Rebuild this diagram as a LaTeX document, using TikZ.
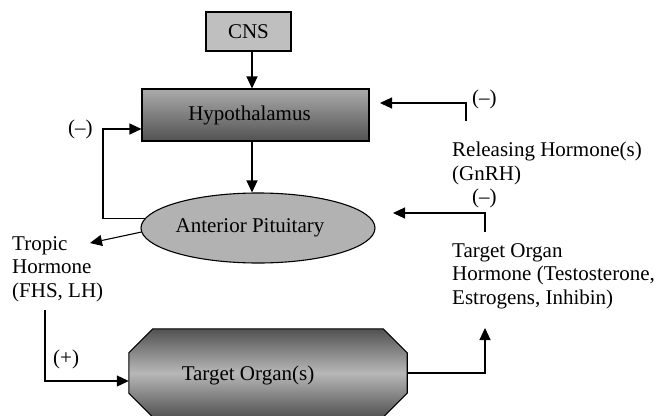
\documentclass[tikz,border=0pt]{standalone}
\usepackage{fontspec}
\setmainfont{Liberation Serif}
\usetikzlibrary{arrows.meta,shapes.geometric,calc}
\begin{document}
\begin{tikzpicture}[x=1pt,y=-1pt,
  every node/.style={font=\fontsize{21}{23.5}\selectfont},
  arr/.style={line width=1.1pt,-{Triangle[length=12pt,width=11pt]}},
  box/.style={draw,line width=1.1pt,inner sep=0pt},
  txt/.style={inner sep=0pt,anchor=base west,align=left},
]
\useasboundingbox (0,0) rectangle (655,415);

% shapes
\node[box,fill=black!25,minimum width=85pt,minimum height=39pt] (cns) at (248.5,31.5) {CNS};
\node[box,top color=black!33,bottom color=black!68,minimum width=227pt,minimum height=52pt,
      label={[xshift=-6pt]center:Hypothalamus}] (hypo) at (255.5,115) {};
\node[box,ellipse,fill=black!30,minimum width=234pt,minimum height=70pt,
      label={[xshift=-8pt]center:Anterior Pituitary}] (ap) at (258,228) {};
\node[inner sep=0pt,minimum width=278pt,minimum height=88pt] (to) at (268,373) {};
\draw[line width=1.1pt,top color=black!68,bottom color=black!68,middle color=black!28]
  ($(to.north west)+(24,0)$) -- ($(to.north east)+(-24,0)$) -- ($(to.north east)+(0,24)$)
  -- ($(to.south east)+(0,-24)$) -- ($(to.south east)+(-24,0)$) -- ($(to.south west)+(24,0)$)
  -- ($(to.south west)+(0,-24)$) -- ($(to.north west)+(0,24)$) -- cycle;
\node[inner sep=0pt] (tol) at ($(to.center)+(-20,2)$) {Target Organ(s)};

% texts
\node[txt] (rel) at (452,180) {Releasing Hormone(s)\\(GnRH)};
\node[txt] (tgt) at (452,304) {Target Organ\\Hormone (Testosterone,\\Estrogens, Inhibin)};
\node[txt] (tro) at (12,297) {Tropic\\Hormone\\(FHS, LH)};
\node[txt] (m1) at (68,134) {(–)};
\node[txt] (m2) at (472,104) {(–)};
\node[txt] (m3) at (472,203) {(–)};
\node[txt] (pl) at (53,364) {(+)};

% coordinates
\coordinate (ax) at (252,0);
\coordinate (fl) at (103,129);
\coordinate (r1a) at (466,121);
\coordinate (r1b) at (380,103);
\coordinate (r2a) at (485,232);
\coordinate (r2b) at (393,213);
\coordinate (t1) at (485,328);
\coordinate (tr) at (90,243);
\coordinate (p1) at (45,310);

% connectors
\draw[arr] (cns.south -| ax) -- (hypo.north -| ax);
\draw[arr] (hypo.south -| ax) -- (ap.north -| ax);
\draw[arr] (ap.175) -| (fl) -- (fl -| hypo.west);
\draw[arr] (r1a) |- (r1b);
\draw[arr] (r2a) |- (r2b);
\draw[arr] (ap.182) -- (tr);
\draw[arr] (to.east) -| (t1);
\draw[arr] (p1) |- ($(to.west)+(0,8)$);
\end{tikzpicture}
\end{document}
